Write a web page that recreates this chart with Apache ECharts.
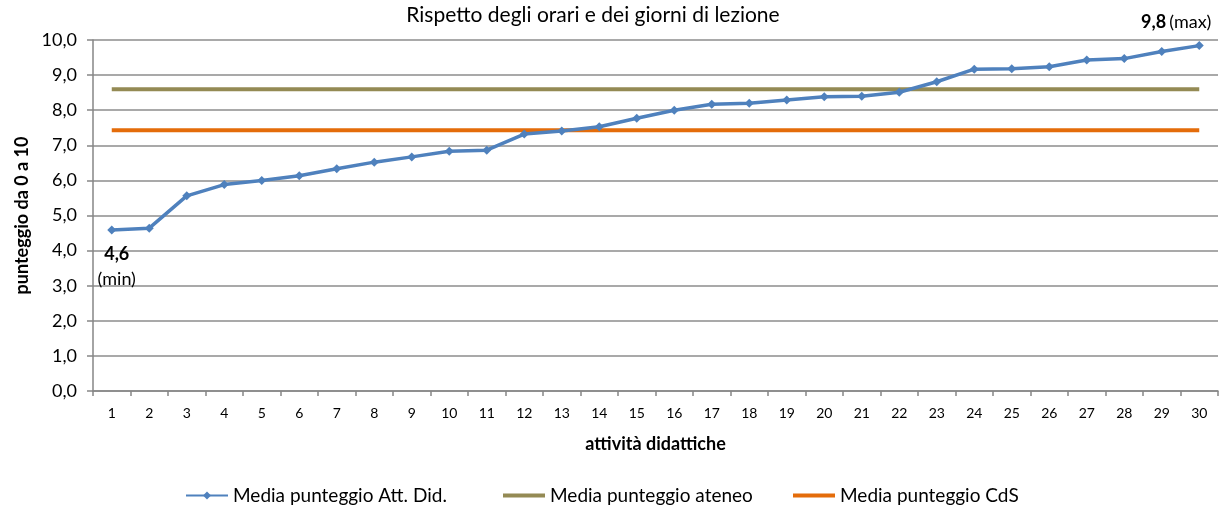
<!DOCTYPE html>
<html>
<head>
<meta charset="utf-8">
<script src="https://cdn.jsdelivr.net/npm/echarts@6/dist/echarts.min.js"></script>
<style>
  html, body { margin: 0; padding: 0; background: #fff; }
  #chart { width: 1224px; height: 506px; }
</style>
</head>
<body>
<div id="chart"></div>
<script>
  // attività didattiche 1..30
  var categories = ['1', '2', '3', '4', '5', '6', '7', '8', '9', '10',
    '11', '12', '13', '14', '15', '16', '17', '18', '19', '20',
    '21', '22', '23', '24', '25', '26', '27', '28', '29', '30']
  var mediaAttDid = [4.59, 4.64, 5.56, 5.88, 6.0, 6.13, 6.33, 6.52, 6.67, 6.83,
    6.86, 7.32, 7.41, 7.53, 7.77, 8.0, 8.17, 8.2, 8.29, 8.38,
    8.4, 8.51, 8.81, 9.17, 9.18, 9.24, 9.43, 9.47, 9.67, 9.84]
  var mediaAteneo = [8.6, 8.6, 8.6, 8.6, 8.6, 8.6, 8.6, 8.6, 8.6, 8.6,
    8.6, 8.6, 8.6, 8.6, 8.6, 8.6, 8.6, 8.6, 8.6, 8.6,
    8.6, 8.6, 8.6, 8.6, 8.6, 8.6, 8.6, 8.6, 8.6, 8.6]
  var mediaCdS = [7.43, 7.43, 7.43, 7.43, 7.43, 7.43, 7.43, 7.43, 7.43, 7.43,
    7.43, 7.43, 7.43, 7.43, 7.43, 7.43, 7.43, 7.43, 7.43, 7.43,
    7.43, 7.43, 7.43, 7.43, 7.43, 7.43, 7.43, 7.43, 7.43, 7.43]
  var yTicks = [0, 1, 2, 3, 4, 5, 6, 7, 8, 9, 10]

  var font = 'Lato, "Open Sans", sans-serif'
  var comma = function (v) { return v.toFixed(1).replace('.', ',') }

  // min / max labels on the first and last point
  var attData = mediaAttDid.map(function (v, i) {
    if (i === 0) {
      return {
        value: v,
        label: {
          show: true, position: 'bottom', offset: [5, 2],
          formatter: '{b|' + comma(v) + '}\n{n|(min)}',
          rich: {
            b: { fontFamily: font, fontSize: 18, fontWeight: 'bold', color: '#000', lineHeight: 25 },
            n: { fontFamily: font, fontSize: 18, color: '#000', lineHeight: 25 }
          }
        }
      }
    }
    if (i === mediaAttDid.length - 1) {
      return {
        value: v,
        label: {
          show: true, position: 'top', offset: [-23, -5],
          formatter: '{b|' + comma(v) + '} {n|(max)}',
          rich: {
            b: { fontFamily: font, fontSize: 18, fontWeight: 'bold', color: '#000' },
            n: { fontFamily: font, fontSize: 18, color: '#000' }
          }
        }
      }
    }
    return v
  })

  var chart = echarts.init(document.getElementById('chart'))
  var legendText = { fontFamily: font, fontSize: 19, color: '#000' }
  chart.setOption({
    animation: false,
    textStyle: { fontFamily: font },
    title: {
      text: 'Rispetto degli orari e dei giorni di lezione',
      left: 588, top: 0, textAlign: 'center',
      textStyle: { fontFamily: font, fontSize: 21, fontWeight: 'normal', color: '#000' }
    },
    legend: [
      { data: ['Media punteggio Att. Did.'], left: 180, top: 481, itemWidth: 42, itemHeight: 10, textStyle: legendText },
      { data: ['Media punteggio ateneo'], left: 498, top: 481, icon: 'rect', itemWidth: 42, itemHeight: 4, textStyle: legendText },
      { data: ['Media punteggio CdS'], left: 788, top: 481, icon: 'rect', itemWidth: 42, itemHeight: 4, textStyle: legendText }
    ],
    grid: { left: 93, right: 6, top: 40, bottom: 115, outerBoundsMode: 'none' },
    xAxis: {
      type: 'category',
      data: categories,
      boundaryGap: true,
      name: 'attività didattiche',
      nameLocation: 'middle',
      nameGap: 44,
      nameTextStyle: { fontFamily: font, fontSize: 18, fontWeight: 'bold', color: '#000' },
      axisLine: { lineStyle: { color: '#868686', width: 1.5 } },
      axisTick: { show: true, alignWithLabel: false, length: 5, lineStyle: { color: '#868686', width: 1.5 } },
      axisLabel: { fontFamily: font, fontSize: 14, color: '#000', margin: 15, interval: 0 }
    },
    yAxis: {
      type: 'value',
      min: yTicks[0],
      max: yTicks[yTicks.length - 1],
      interval: 1,
      name: 'punteggio da 0 a 10',
      nameLocation: 'middle',
      nameGap: 62,
      nameTextStyle: { fontFamily: font, fontSize: 18, fontWeight: 'bold', color: '#000' },
      axisLine: { show: true, lineStyle: { color: '#868686', width: 1.5 } },
      axisTick: { show: true, length: 6, lineStyle: { color: '#868686', width: 1.5 } },
      axisLabel: { fontFamily: font, fontSize: 18, color: '#000', margin: 16, formatter: comma },
      splitLine: { lineStyle: { color: '#8c8c8c', width: 1.5 } }
    },
    series: [
      {
        name: 'Media punteggio Att. Did.',
        type: 'line',
        data: attData,
        symbol: 'diamond',
        symbolSize: 9,
        itemStyle: { color: '#4F81BD' },
        lineStyle: { color: '#4F81BD', width: 3.5 },
        z: 5
      },
      {
        name: 'Media punteggio ateneo',
        type: 'line',
        data: mediaAteneo,
        symbol: 'none',
        itemStyle: { color: '#948A54' },
        lineStyle: { color: '#948A54', width: 4 },
        z: 3
      },
      {
        name: 'Media punteggio CdS',
        type: 'line',
        data: mediaCdS,
        symbol: 'none',
        itemStyle: { color: '#E46C0A' },
        lineStyle: { color: '#E46C0A', width: 4 },
        z: 3
      }
    ]
  })
</script>
</body>
</html>
